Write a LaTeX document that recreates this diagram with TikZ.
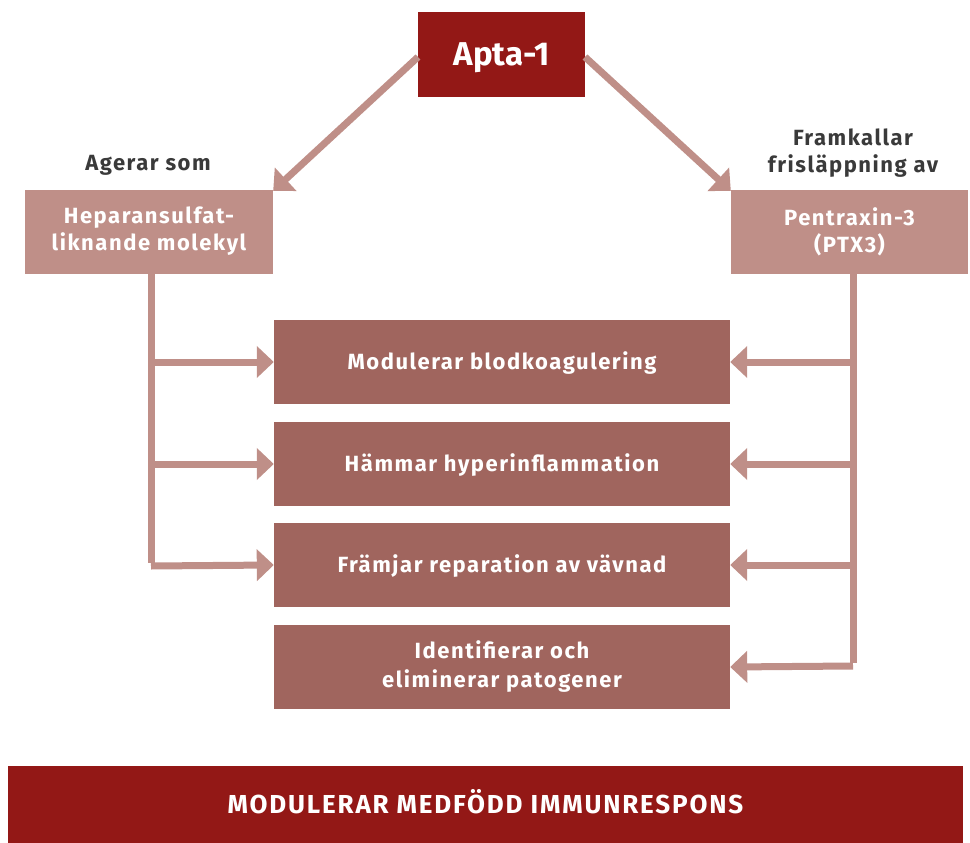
\documentclass[tikz,border=0pt]{standalone}
\usepackage{fontspec}
\setmainfont{Fira Sans}
\newfontfamily\spacedsans[LetterSpace=7]{Fira Sans}
\usetikzlibrary{arrows.meta}
\definecolor{darkred}{HTML}{931816}
\definecolor{lightrose}{HTML}{BF8F88}
\definecolor{midrose}{HTML}{A0655E}
\definecolor{labeltext}{HTML}{3A3A3A}
\tikzset{
  box/.style={rectangle, inner sep=0pt, text=white, font=\spacedsans\bfseries\fontsize{22}{27}\selectfont, align=center},
  oneline/.style={text height=15.5pt, text depth=0pt},
  topbox/.style={box, fill=darkred, minimum width=167pt, minimum height=85pt, font=\bfseries\fontsize{33}{40}\selectfont},
  sidebox/.style={box, fill=lightrose, minimum height=84pt},
  midbox/.style={box, fill=midrose, minimum width=456pt, minimum height=84pt},
  lbl/.style={text=labeltext, font=\spacedsans\bfseries\fontsize{22}{27}\selectfont, align=center},
  conn/.style={draw=lightrose, line width=7pt},
  arr/.style={conn, -{Triangle[length=17pt, width=31pt]}},
}
\begin{document}
\begin{tikzpicture}[x=1pt,y=-1pt]
\useasboundingbox (0,0) rectangle (970,843);
\node[topbox, text height=23pt, text depth=0pt] (apta) at (501.5,54.5) {Apta-1};
\node[sidebox, minimum width=248pt] (hep) at (149,231.5) {Heparansulfat-\\liknande molekyl};
\node[sidebox, minimum width=237pt] (ptx) at (849.5,231.5) {Pentraxin-3\\(PTX3)};
\node[lbl] (ager) at (148,165) {Agerar som};
\node[lbl] (fram) at (853,153) {Framkallar\\frisläppning av};
\node[midbox, oneline] (m1) at (502,362) {Modulerar blodkoagulering};
\node[midbox, oneline] (m2) at (502,464) {Hämmar hyperinflammation};
\node[midbox, oneline] (m3) at (502,565) {Främjar reparation av vävnad};
\node[midbox, font=\spacedsans\bfseries\fontsize{22}{29}\selectfont] (m4) at (502,667) {Identifierar och\\eliminerar patogener};
\node[box, oneline, text height=18pt, fill=darkred, minimum width=955pt, minimum height=77pt, font=\spacedsans\bfseries\fontsize{26}{30}\selectfont] (bar) at (485.5,804.5) {MODULERAR MEDFÖDD IMMUNRESPONS};
% diagonals
\coordinate (aL) at (418,57);
\coordinate (aR) at (585,57);
\draw[arr] (aL) -- ([yshift=-1.5pt]hep.north east);
\draw[arr] (aR) -- ([yshift=-1.5pt]ptx.north west);
% left trunk
\coordinate (lt) at (151,272);
\coordinate (l3) at (151,566);
\draw[conn] (lt) -- ([yshift=3.5pt]l3);
\draw[arr] (151,362) -- (m1.west);
\draw[arr] (151,464) -- (m2.west);
\draw[arr] (l3) -- (m3.west);
% right trunk
\coordinate (rt) at (853,272);
\coordinate (r4) at (853,666);
\draw[conn] (rt) -- ([yshift=3.5pt]r4);
\draw[arr] (853,362) -- (m1.east);
\draw[arr] (853,464) -- (m2.east);
\draw[arr] (853,565) -- (m3.east);
\draw[arr] (r4) -- (m4.east);
\end{tikzpicture}
\end{document}
